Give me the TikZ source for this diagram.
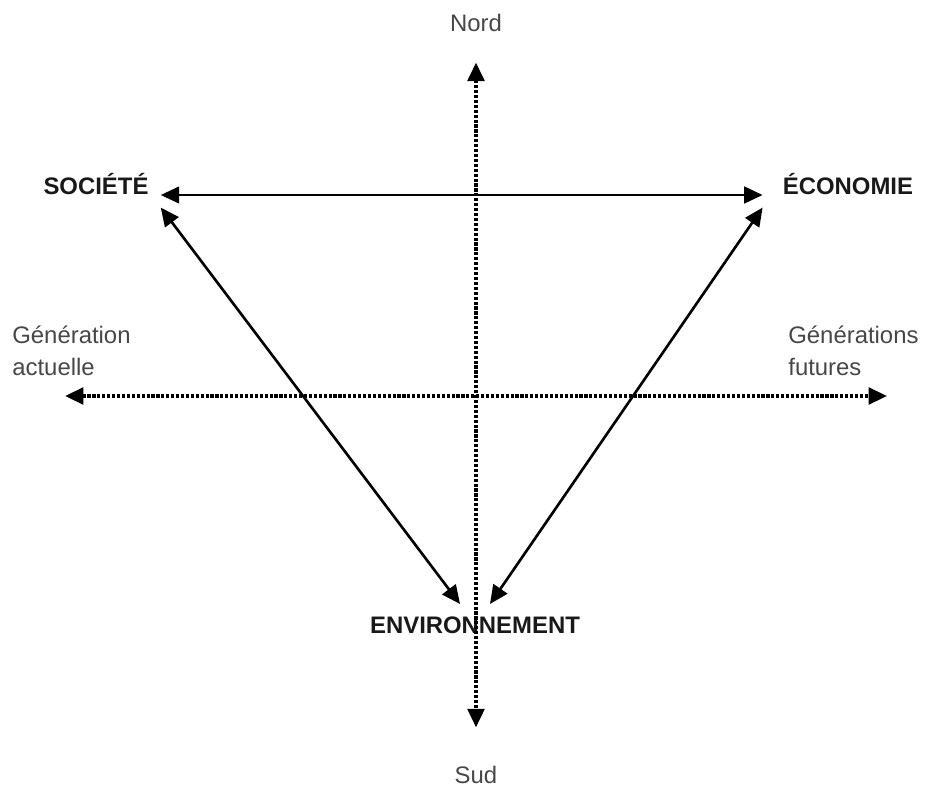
\documentclass[tikz,border=0pt]{standalone}
\usepackage{fontspec}
\setmainfont{Liberation Sans}
\usetikzlibrary{arrows.meta}

\tikzset{
  pole/.style={font=\fontsize{13.6}{16}\selectfont\bfseries, text=black!90, inner sep=0.24cm, anchor=base},
  axe/.style={font=\fontsize{13.6}{18.2}\selectfont, text=black!72, inner sep=0pt},
  fleche/.style={line width=1.5pt, {Triangle[length=10.5pt,width=9.5pt]}-{Triangle[length=10.5pt,width=9.5pt]}},
  pointille/.style={line width=2pt, dash pattern=on 1.8pt off 1pt, {Triangle[length=10.5pt,width=9.5pt]}-{Triangle[length=10.5pt,width=9.5pt]}}
}

\begin{document}
\begin{tikzpicture}[x=0.02cm, y=-0.02cm]
    \useasboundingbox (0,0) rectangle (926,787);

    % les trois poles
    \node[pole] (soc) at (96,195) {SOCIÉTÉ};
    \node[pole, inner xsep=0.4cm] (eco) at (848,195) {ÉCONOMIE};
    \node[pole] (env) at (475,633) {ENVIRONNEMENT};

    % axe Nord-Sud
    \node[axe, anchor=base] (nord) at (476,32) {Nord};
    \node[axe, anchor=base] (sud) at (476,783) {Sud};
    \draw[pointille, shorten <=0.6cm, shorten >=0.76cm] (nord.south) -- (sud.north);

    % axe des generations
    \node[axe, align=left, anchor=base west] (act) at (12,375) {Génération\\actuelle};
    \node[axe, align=left, anchor=base west] (fut) at (788,375) {Générations\\futures};
    \coordinate (gauche) at (65,396);
    \coordinate (droite) at (887,396);
    \draw[pointille] (gauche) -- (droite);

    % triangle
    \draw[fleche] (soc.base east) -- (eco.base west);
    \draw[fleche] (soc.south east) -- ([xshift=-0.3cm]env.north);
    \draw[fleche] (eco.south west) -- ([xshift=0.3cm]env.north);
\end{tikzpicture}
\end{document}
